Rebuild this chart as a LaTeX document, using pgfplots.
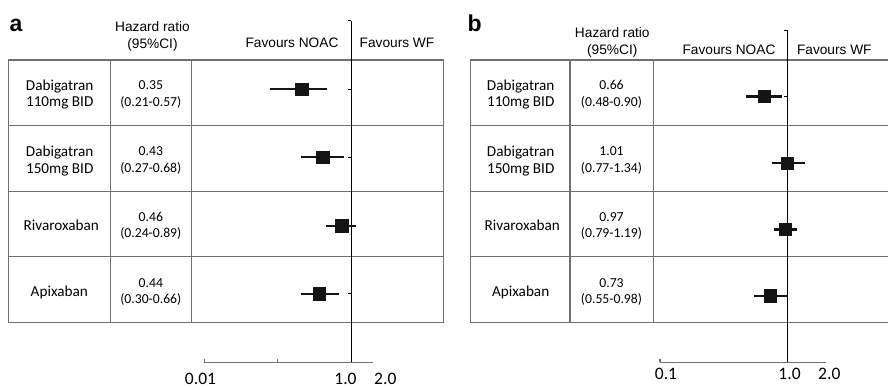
\documentclass[border=0pt]{standalone}
\usepackage{pgfplots}
\pgfplotsset{compat=1.18}
\usepackage{fontspec}
\setmainfont{Liberation Sans}
\newfontfamily\calib{Carlito}
\definecolor{tbl}{RGB}{112,112,112}
\definecolor{mk}{RGB}{20,20,20}
\tikzset{
  hdr/.style={font=\fontsize{13.7}{16}\selectfont, anchor=base, inner sep=0pt},
  lab/.style={font=\calib\fontsize{15.2}{16}\selectfont, anchor=base, inner sep=0pt},
  num/.style={font=\calib\fontsize{13.7}{16}\selectfont, anchor=base, inner sep=0pt},
}
\begin{document}
\begin{tikzpicture}
\begin{scope}[x=1pt,y=-1pt]
\path[use as bounding box] (0,0) rectangle (888,389);
% ---- panel a table
\draw[tbl, line width=1.4pt] (8.3,60) rectangle (443.3,322.7);
\draw[tbl, line width=1.4pt] (8.3,125.7) -- (443.3,125.7) (8.3,191.3) -- (443.3,191.3) (8.3,256.7) -- (443.3,256.7);
\draw[tbl, line width=1.4pt] (110.7,60) -- (110.7,322.7) (191.7,60) -- (191.7,322.7);
% ---- panel b table
\draw[tbl, line width=1.4pt] (888,60) -- (470.7,60) -- (470.7,322.7) -- (888,322.7);
\draw[tbl, line width=1.4pt] (470.7,125.7) -- (888,125.7) (470.7,191.3) -- (888,191.3) (470.7,256.7) -- (888,256.7);
\draw[tbl, line width=1.4pt] (570,60) -- (570,322.7) (653.3,60) -- (653.3,322.7);
% ---- panel a texts
\node[font=\bfseries\fontsize{23}{24}\selectfont, anchor=base west, inner sep=0pt] at (9.3,31.7) {a};
\node[hdr] at (152.5,31.7) {Hazard ratio};
\node[hdr] at (152.5,48.3) {(95\%CI)};
\node[hdr] at (292,47.7) {Favours NOAC};
\node[hdr] at (397,47.7) {Favours WF};
\node[lab] at (59.7,90) {Dabigatran};
\node[lab] at (59.7,106.7) {110mg BID};
\node[lab] at (59.7,156.7) {Dabigatran};
\node[lab] at (59.7,173.3) {150mg BID};
\node[lab] at (61.3,230.7) {Rivaroxaban};
\node[lab] at (59.3,296.7) {Apixaban};
\node[num] at (150.8,89.3) {0.35};
\node[num] at (150.8,106) {(0.21-0.57)};
\node[num] at (150.8,155) {0.43};
\node[num] at (150.8,172) {(0.27-0.68)};
\node[num] at (150.8,221.7) {0.46};
\node[num] at (150.8,237.5) {(0.24-0.89)};
\node[num] at (150.8,287.7) {0.44};
\node[num] at (150.8,303.8) {(0.30-0.66)};
% ---- panel b texts
\node[font=\bfseries\fontsize{23}{24}\selectfont, anchor=base west, inner sep=0pt] at (467.3,31.7) {b};
\node[hdr] at (612.3,37.7) {Hazard ratio};
\node[hdr] at (612.3,54.3) {(95\%CI)};
\node[hdr] at (729,54) {Favours NOAC};
\node[hdr] at (834.3,54) {Favours WF};
\node[lab] at (520.7,90) {Dabigatran};
\node[lab] at (520.7,106.7) {110mg BID};
\node[lab] at (520.7,156.7) {Dabigatran};
\node[lab] at (520.7,173.3) {150mg BID};
\node[lab] at (522.3,230.7) {Rivaroxaban};
\node[lab] at (520.7,296.7) {Apixaban};
\node[num] at (611.5,89.3) {0.66};
\node[num] at (611.5,106) {(0.48-0.90)};
\node[num] at (611.5,155) {1.01};
\node[num] at (611.5,172) {(0.77-1.34)};
\node[num] at (611.5,221.7) {0.97};
\node[num] at (611.5,237.5) {(0.79-1.19)};
\node[num] at (611.5,287.7) {0.73};
\node[num] at (611.5,303.8) {(0.55-0.98)};
\end{scope}
% ---- panel a plot
\begin{axis}[xmode=log, scale only axis, clip=false,
  ymin=0, ymax=5,
  axis y line=none, axis x line*=bottom,
  x axis line style={tbl, line width=1.2pt},
  xtick style={tbl, line width=1.2pt},
  xtick align=inside, major tick length=3.5pt,
  xminorticks=false, ytick=\empty,
  xticklabel style={font=\calib\fontsize{17.5}{18}\selectfont, anchor=base, inner sep=0pt, yshift=-22.6pt},
  at={(204.3pt,-362.3pt)}, anchor=south west,
  width=169pt, height=341.6pt, xmin=0.01, xmax=2,
  xtick={0.01,0.1,1}, xticklabels={\hspace*{-7.6pt}0.01,{},\hspace*{-11.4pt}1.0},
  extra x ticks={2}, extra x tick labels={\hspace*{24pt}2.0},
  extra x tick style={major tick length=0pt}]
\draw[black, line width=1.1pt] (axis cs:1,0) -- (axis cs:1,5);
\draw[black, line width=1pt] (axis cs:1,5) -- ([xshift=-3.2pt]axis cs:1,5);
\draw[black, line width=1pt] (axis cs:1,4) -- ([xshift=-3.2pt]axis cs:1,4);
\draw[black, line width=1pt] (axis cs:1,3) -- ([xshift=-3.2pt]axis cs:1,3);
\draw[black, line width=1pt] (axis cs:1,2) -- ([xshift=-3.2pt]axis cs:1,2);
\draw[black, line width=1pt] (axis cs:1,1) -- ([xshift=-3.2pt]axis cs:1,1);
\addplot[mk, line width=2.3pt] coordinates {(0.078,4) (0.475,4)};
\addplot[mk, line width=2.3pt] coordinates {(0.206,3) (0.798,3)};
\addplot[mk, line width=2.3pt] coordinates {(0.46,2) (1.18,2)};
\addplot[mk, line width=2.3pt] coordinates {(0.206,1) (0.683,1)};
\addplot[only marks, mark=square*, mark size=6.3pt, mk] coordinates {(0.211,4) (0.406,3) (0.736,2) (0.365,1)};
\end{axis}
% ---- panel b plot
\begin{axis}[xmode=log, scale only axis, clip=false,
  ymin=0, ymax=5,
  axis y line=none, axis x line*=bottom,
  x axis line style={tbl, line width=1.2pt},
  xtick style={tbl, line width=1.2pt},
  xtick align=inside, major tick length=3.5pt,
  xminorticks=false, ytick=\empty,
  xticklabel style={font=\calib\fontsize{17.5}{18}\selectfont, anchor=base, inner sep=0pt, yshift=-17.5pt},
  at={(660pt,-362.3pt)}, anchor=south west,
  width=165.7pt, height=332.3pt, xmin=0.1, xmax=2,
  xtick={0.1,1}, xticklabels={\hspace*{12pt}0.1,\hspace*{4.4pt}1.0},
  extra x ticks={2}, extra x tick labels={\hspace*{7.2pt}2.0},
  extra x tick style={major tick length=0pt}]
\draw[black, line width=1.1pt] (axis cs:1,0) -- (axis cs:1,5);
\draw[black, line width=1pt] (axis cs:1,5) -- ([xshift=-3.2pt]axis cs:1,5);
\draw[black, line width=1pt] (axis cs:1,4) -- ([xshift=-3.2pt]axis cs:1,4);
\draw[black, line width=1pt] (axis cs:1,3) -- ([xshift=-3.2pt]axis cs:1,3);
\draw[black, line width=1pt] (axis cs:1,2) -- ([xshift=-3.2pt]axis cs:1,2);
\draw[black, line width=1pt] (axis cs:1,1) -- ([xshift=-3.2pt]axis cs:1,1);
\addplot[mk, line width=2.3pt] coordinates {(0.47,4) (0.90,4)};
\addplot[mk, line width=2.3pt] coordinates {(0.76,3) (1.37,3)};
\addplot[mk, line width=2.3pt] coordinates {(0.78,2) (1.20,2)};
\addplot[mk, line width=2.3pt] coordinates {(0.55,1) (0.99,1)};
\addplot[only marks, mark=square*, mark size=6.2pt, mk] coordinates {(0.66,4) (1.00,3) (0.96,2) (0.73,1)};
\end{axis}
\end{tikzpicture}
\end{document}
